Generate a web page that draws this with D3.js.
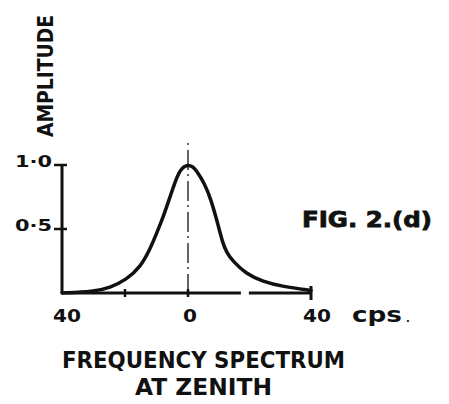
<!DOCTYPE html>
<html>
<head>
<meta charset="utf-8">
<script src="https://cdn.jsdelivr.net/npm/d3@7"></script>
<style>
  body { margin: 0; background: #fff; }
  text { font-family: "DejaVu Sans", sans-serif; font-weight: bold; fill: #111; }
</style>
</head>
<body>
<div id="chart"></div>
<script>
// spectrum (frequency in cps, relative amplitude)
const freq = [-40, -30, -24.8, -19.5, -15.2, -12.1, -9.9, -7.8, -5.7, -4.1, -2.5, -1.2, 0,
              1.5, 2.6, 5.3, 7.5, 9.7, 11.3, 12.5, 14.5, 18.9, 24.3, 30.8, 40]
const amp  = [0.0, 0.01, 0.04, 0.105, 0.20, 0.34, 0.47, 0.60, 0.75, 0.87, 0.96, 0.99, 1.0,
              0.99, 0.96, 0.86, 0.73, 0.54, 0.39, 0.32, 0.25, 0.15, 0.09, 0.05, 0.02]

const xTicks = [-40, -20, 0, 40]
const xTickLabels = [[-40, '40'], [0, '0'], [40, '40']]
const yTicks = [0.5, 1.0]
const yTickLabels = ['0·5', '1·0']
// the drawn baseline has a small break on the right
const baseSegments = [[-40, 17.2], [19.8, 40]]

const width = 449
const height = 404

const x = d3.scaleLinear().domain([-40, 0, 40]).range([62, 188, 311])
const y = d3.scaleLinear().domain([0, 1]).range([293, 165])

const svg = d3.select('#chart').append('svg')
  .attr('width', width)
  .attr('height', height)

const ink = '#111'

// centre line (dash-dot)
svg.append('line')
  .attr('x1', x(0)).attr('x2', x(0))
  .attr('y1', 143).attr('y2', y(0))
  .attr('stroke', ink)
  .attr('stroke-width', 1.3)
  .attr('stroke-dasharray', '2,5,20,4')

// axes
svg.append('line')
  .attr('x1', x(-40)).attr('x2', x(-40))
  .attr('y1', y(1)).attr('y2', y(0))
  .attr('stroke', ink).attr('stroke-width', 3)

svg.selectAll('.base')
  .data(baseSegments)
  .join('line')
    .attr('x1', d => x(d[0])).attr('x2', d => x(d[1]))
    .attr('y1', y(0)).attr('y2', y(0))
    .attr('stroke', ink).attr('stroke-width', 3)

svg.selectAll('.ytick')
  .data(yTicks)
  .join('line')
    .attr('x1', x(-40) - 8).attr('x2', x(-40) + 5)
    .attr('y1', d => y(d)).attr('y2', d => y(d))
    .attr('stroke', ink).attr('stroke-width', 2.5)

svg.selectAll('.xtick')
  .data(xTicks.filter(d => d !== -40))
  .join('line')
    .attr('x1', d => x(d)).attr('x2', d => x(d))
    .attr('y1', d => y(0) - (d === 40 ? 7 : 4)).attr('y2', d => y(0) + (d === 40 ? 7 : 4))
    .attr('stroke', ink).attr('stroke-width', d => d === 40 ? 3 : 2.5)

// spectrum curve
const line = d3.line()
  .x(d => x(d[0]))
  .y(d => y(d[1]))
  .curve(d3.curveBasis)

svg.append('path')
  .datum(freq.map((f, i) => [f, amp[i]]))
  .attr('d', line)
  .attr('fill', 'none')
  .attr('stroke', ink)
  .attr('stroke-width', 3.5)
  .attr('stroke-linejoin', 'round')
  .attr('stroke-linecap', 'round')

// tick labels
svg.selectAll('.ylab')
  .data(yTicks)
  .join('text')
    .attr('x', 52)
    .attr('y', d => y(d) + 2)
    .attr('text-anchor', 'end')
    .attr('font-size', 15)
    .attr('textLength', 37)
    .attr('lengthAdjust', 'spacingAndGlyphs')
    .text((d, i) => yTickLabels[i])

svg.selectAll('.xlab')
  .data(xTickLabels)
  .join('text')
    .attr('x', d => x(d[0]) + (d[0] === 40 ? 6 : d[0] === 0 ? 2 : 5))
    .attr('y', 322)
    .attr('text-anchor', 'middle')
    .attr('font-size', 18)
    .attr('textLength', d => d[1].length === 2 ? 28 : 14)
    .attr('lengthAdjust', 'spacingAndGlyphs')
    .text(d => d[1])

svg.append('text')
  .attr('x', 352).attr('y', 322)
  .attr('font-size', 21)
  .attr('textLength', 50)
  .attr('lengthAdjust', 'spacingAndGlyphs')
  .text('cps')

svg.append('text')
  .attr('x', 406).attr('y', 322)
  .attr('font-size', 10)
  .attr('font-weight', 'normal')
  .text('.')

// titles
svg.append('text')
  .attr('transform', 'translate(53,76) rotate(-90)')
  .attr('text-anchor', 'middle')
  .style('font-family', '"DejaVu Sans Condensed", "DejaVu Sans", sans-serif')
  .attr('font-size', 21)
  .attr('textLength', 122)
  .attr('lengthAdjust', 'spacingAndGlyphs')
  .text('AMPLITUDE')

svg.append('text')
  .attr('x', 302).attr('y', 227)
  .attr('font-size', 21)
  .attr('font-weight', 'normal')
  .attr('textLength', 130)
  .attr('lengthAdjust', 'spacingAndGlyphs')
  .style('stroke', ink).style('stroke-width', 0.8)
  .text('FIG. 2.(d)')

svg.append('text')
  .attr('x', 62).attr('y', 368)
  .attr('font-size', 23)
  .attr('textLength', 283)
  .attr('lengthAdjust', 'spacingAndGlyphs')
  .text('FREQUENCY SPECTRUM')

svg.append('text')
  .attr('x', 135).attr('y', 395)
  .attr('font-size', 23)
  .attr('textLength', 137)
  .attr('lengthAdjust', 'spacingAndGlyphs')
  .text('AT ZENITH')
</script>
</body>
</html>
